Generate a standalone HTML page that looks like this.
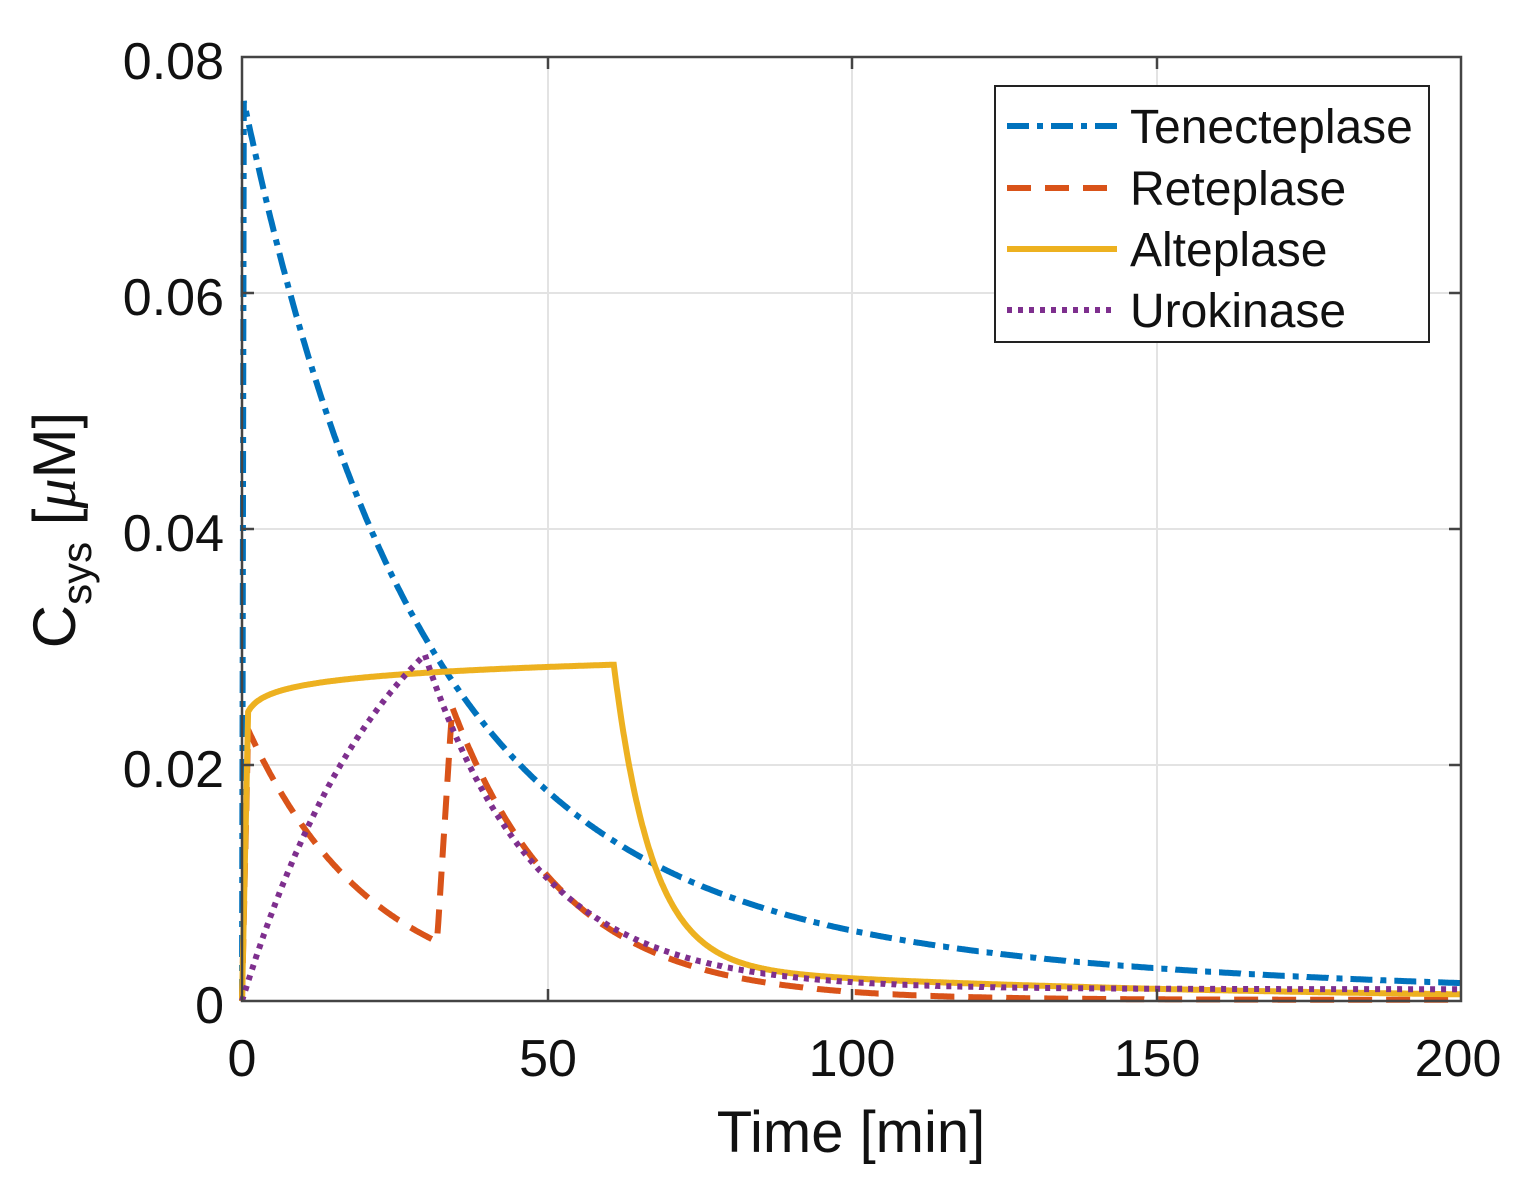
<!DOCTYPE html>
<html><head><meta charset="utf-8"><style>
body{margin:0;background:#fff;}
svg text{font-family:"Liberation Sans",sans-serif;fill:#111;}
</style></head><body>
<svg id="s" width="1518" height="1185" viewBox="0 0 1518 1185" xmlns="http://www.w3.org/2000/svg">
<rect width="1518" height="1185" fill="#fff"/>
<g stroke="#e3e3e3" stroke-width="2">
<line x1="548" y1="57" x2="548" y2="1001"/><line x1="852" y1="57" x2="852" y2="1001"/><line x1="1157" y1="57" x2="1157" y2="1001"/>
<line x1="242" y1="293" x2="1461" y2="293"/><line x1="242" y1="529" x2="1461" y2="529"/><line x1="242" y1="765" x2="1461" y2="765"/>
</g>
<g id="curves" fill="none" stroke-width="6"></g>
<rect x="242" y="57" width="1219" height="944" fill="none" stroke="#444" stroke-width="2.5"/>
<g stroke="#444" stroke-width="2.5">
<line x1="548" y1="1001" x2="548" y2="989"/><line x1="852" y1="1001" x2="852" y2="989"/><line x1="1157" y1="1001" x2="1157" y2="989"/>
<line x1="548" y1="57" x2="548" y2="69"/><line x1="852" y1="57" x2="852" y2="69"/><line x1="1157" y1="57" x2="1157" y2="69"/>
<line x1="242" y1="293" x2="254" y2="293"/><line x1="242" y1="529" x2="254" y2="529"/><line x1="242" y1="765" x2="254" y2="765"/>
<line x1="1461" y1="293" x2="1449" y2="293"/><line x1="1461" y1="529" x2="1449" y2="529"/><line x1="1461" y1="765" x2="1449" y2="765"/>
</g>
<g font-size="52" text-anchor="end">
<text x="224" y="79">0.08</text><text x="224" y="315">0.06</text><text x="224" y="551">0.04</text><text x="224" y="787">0.02</text><text x="224" y="1023">0</text>
</g>
<g font-size="52" text-anchor="middle">
<text x="242" y="1076">0</text><text x="548" y="1076">50</text><text x="852" y="1076">100</text><text x="1157" y="1076">150</text><text x="1458" y="1076">200</text>
<text x="851" y="1152" font-size="58">Time [min]</text>
</g>
<text transform="translate(75,530) rotate(-90)" font-size="60" text-anchor="middle">C<tspan font-size="42" dy="16">sys</tspan><tspan dy="-16"> [</tspan><tspan font-family="Liberation Serif" font-style="italic">μ</tspan>M]</text>
<rect x="995" y="86" width="434" height="256" fill="#fff" stroke="#222" stroke-width="2"/>
<g stroke-width="6" fill="none">
<line x1="1007" y1="126" x2="1117" y2="126" stroke="#0072BD" stroke-dasharray="22,8,6,8"/>
<line x1="1007" y1="188" x2="1117" y2="188" stroke="#D95319" stroke-dasharray="24,14"/>
<line x1="1007" y1="249" x2="1117" y2="249" stroke="#EDB120"/>
<line x1="1007" y1="310" x2="1117" y2="310" stroke="#7E2F8E" stroke-dasharray="5,6"/>
</g>
<g font-size="48">
<text x="1130" y="143">Tenecteplase</text><text x="1130" y="205">Reteplase</text><text x="1130" y="266">Alteplase</text><text x="1130" y="327">Urokinase</text>
</g>
</svg>
<script>
const X=t=>242+t*6.095, Y=c=>1001-c*11800;
function path(f,dt){let d='';for(let t=0;t<=200.001;t+=dt){const c=f(t);d+=(d?'L':'M')+X(t).toFixed(1)+','+Y(c).toFixed(1);}return d;}
const ten=t=>t<0.3?0.077*t/0.3:0.065*Math.exp(-0.036*t)+0.012*Math.exp(-0.0105*t);
const ret=t=>{if(t<1)return 0.023*t;if(t<32)return 0.023*Math.exp(-0.049*(t-1));if(t<34.5){const a=0.023*Math.exp(-0.049*31);return a+(0.025-a)*(t-32)/2.5;}return 0.0248*Math.exp(-0.055*(t-34.5))+0.0001;};
const alt=t=>{if(t<1)return 0.0245*t;if(t<61)return 0.0245+0.004*Math.log(t)/Math.log(61);return 0.0255*Math.exp(-0.16*(t-61))+0.003*Math.exp(-0.012*(t-61));};
const uro=t=>{if(t<30)return 0.042*(1-Math.exp(-0.04*t));const p=0.042*(1-Math.exp(-1.2));return (p-0.001)*Math.exp(-0.055*(t-30))+0.001;};
const g=document.getElementById('curves');
[[ten,'#0072BD','22,8,6,8'],[ret,'#D95319','24,14'],[alt,'#EDB120',''],[uro,'#7E2F8E','5,6']].forEach(([f,c,da])=>{
const p=document.createElementNS('http://www.w3.org/2000/svg','path');p.setAttribute('d',path(f,0.1));p.setAttribute('stroke',c);if(da)p.setAttribute('stroke-dasharray',da);g.appendChild(p);});
</script>
</body></html>
